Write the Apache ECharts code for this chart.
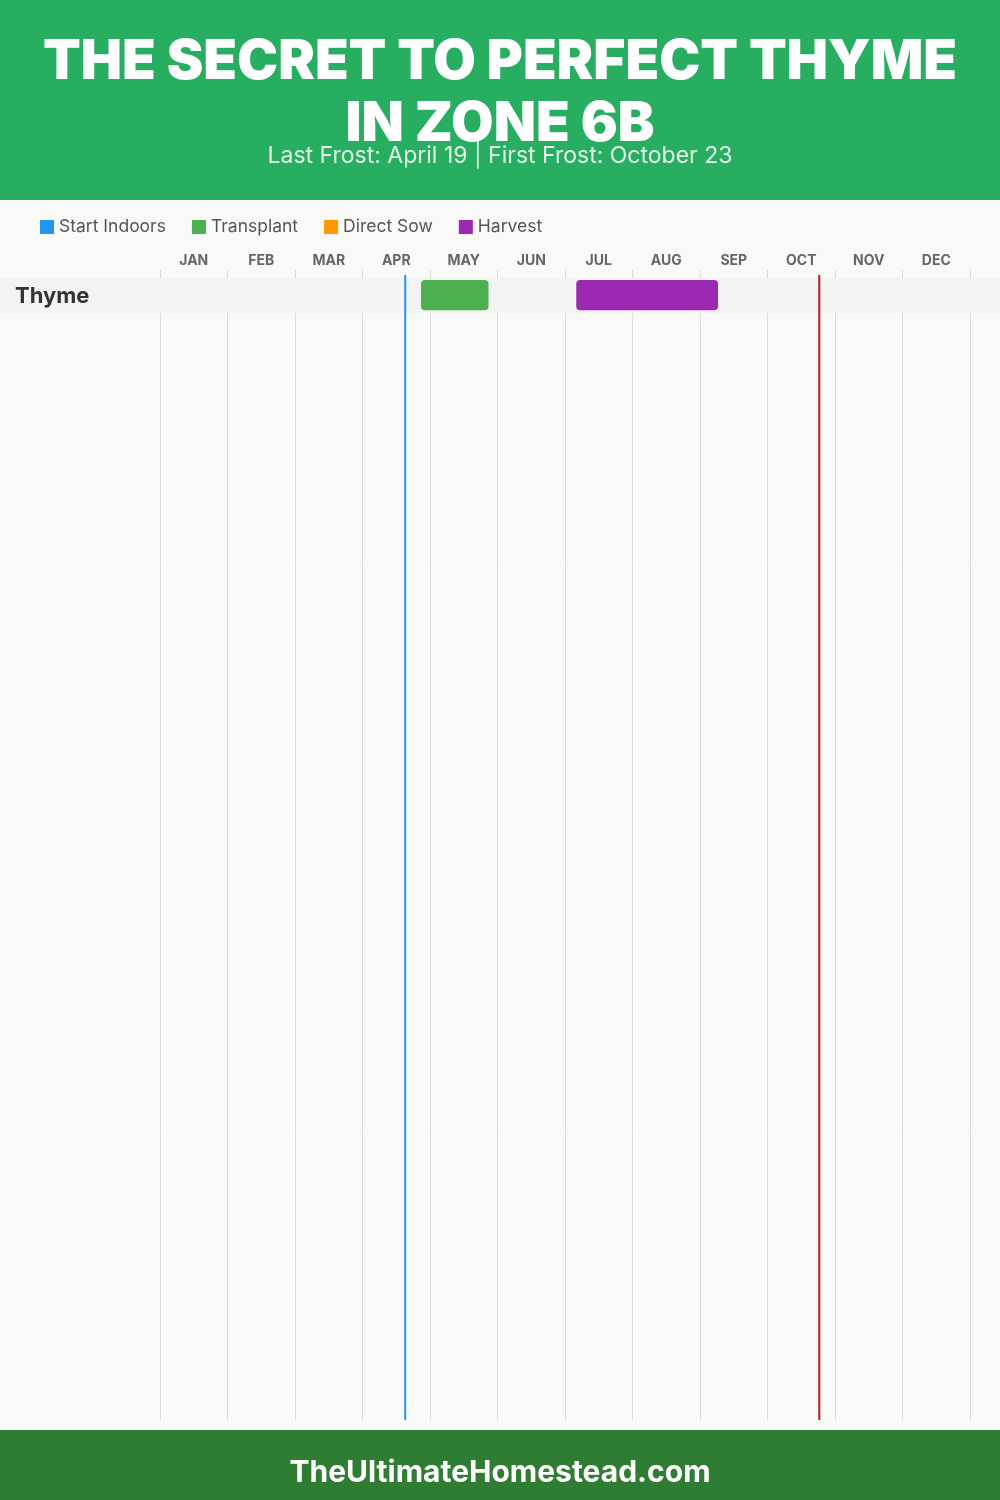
<!DOCTYPE html>
<html>
<head>
<meta charset="utf-8">
<script src="https://cdn.jsdelivr.net/npm/echarts@6/dist/echarts.min.js"></script>
<style>
html,body{margin:0;padding:0;background:#f9f9f8;}
#chart{width:1000px;height:1500px;}
</style>
</head>
<body>
<div id="chart"></div>
<script>
// ---- data ----
const titleText = 'THE SECRET TO PERFECT THYME\nIN ZONE 6B';
const subtitleText = 'Last Frost: April 19 | First Frost: October 23';
const footerText = 'TheUltimateHomestead.com';
const months = ['JAN','FEB','MAR','APR','MAY','JUN','JUL','AUG','SEP','OCT','NOV','DEC'];
const crops = ['Thyme'];
const seriesNames = ['Start Indoors','Transplant','Direct Sow','Harvest'];
const seriesColors = ['#2196f3','#4caf50','#ff9800','#9c27b0'];
// [cropIndex, startMonth, endMonth] in month units (0 = Jan 1, month + day/30)
const startIndoors = [];
const transplant = [[0, 3.867, 4.867]];   // Apr 26 - May 26
const directSow = [];
const harvest = [[0, 6.167, 8.267]];      // Jul 5 - Sep 8
const lastFrost = 3.633;   // April 19
const firstFrost = 9.767;  // October 23

const FONT = 'Inter, "Noto Sans", sans-serif';
const ROW_PX = 35;
const GRID_TOP = 278, GRID_BOTTOM = 80;
const chart = echarts.init(document.getElementById('chart'), null, {renderer:'canvas'});
const gridH = 1500 - GRID_TOP - GRID_BOTTOM;

function barItem(params, api) {
  const row = api.value(0);
  const p0 = api.coord([api.value(1), row + 0.06]);
  const p1 = api.coord([api.value(2), row + 0.92]);
  return {type:'rect', shape:{x:p0[0], y:p0[1], width:p1[0]-p0[0], height:p1[1]-p0[1], r:4},
    style:{fill: api.visual('color')}};
}
const phaseData = [startIndoors, transplant, directSow, harvest];
const phaseSeries = seriesNames.map((n,i)=>({
  name:n, type:'custom', xAxisIndex:1, yAxisIndex:0, z:5,
  itemStyle:{color:seriesColors[i]},
  encode:{x:[1,2], y:0},
  renderItem: barItem,
  data: phaseData[i]
}));

const rowSeries = {
  type:'custom', xAxisIndex:1, yAxisIndex:0, z:3, clip:false, silent:true,
  encode:{x:-1, y:0},
  renderItem(params, api){
    const row = api.value(0);
    const y0 = api.coord([0,row])[1], y1 = api.coord([0,row+1])[1];
    return {type:'group', children:[
      {type:'rect', shape:{x:0, y:y0, width:api.getWidth(), height:y1-y0}, style:{fill:'#f3f3f2'}},
      {type:'text', x:15, y:(y0+y1)/2 + 1, style:{text:crops[row], fill:'#333', font:'bold 22px '+FONT, textVerticalAlign:'middle'}}
    ]};
  },
  data: crops.map((c,i)=>[i])
};

const frostSeries = {
  type:'custom', xAxisIndex:1, yAxisIndex:0, z:6, clip:false, silent:true,
  encode:{x:0},
  renderItem(params, api){
    const x = api.coord([api.value(0), 0])[0];
    const cs = params.coordSys;
    return {type:'line', shape:{x1:x, y1:cs.y-3, x2:x, y2:cs.y+cs.height},
      style:{stroke: params.dataIndex===0 ? '#2196f3' : '#b71c1c', lineWidth:2}};
  },
  data: [[lastFrost],[firstFrost]]
};

chart.setOption({
  backgroundColor:'#f9f9f8',
  animation:false,
  textStyle:{fontFamily:FONT},
  graphic:[
    {type:'rect', shape:{x:0,y:0,width:1000,height:200}, style:{fill:'#27ae60'}, z:-1},
    {type:'rect', shape:{x:0,y:1430,width:1000,height:70}, style:{fill:'#2e7d32'}, z:-1},
    {type:'text', left:'center', top:1458, style:{text:footerText, fill:'#fff', font:'bold 30px '+FONT}}
  ],
  title:[{
    text:titleText, left:'center', top:31, padding:0,
    textStyle:{color:'#fff', fontSize:55, fontWeight:900, lineHeight:62, fontFamily:FONT}
  },{
    text:subtitleText, left:'center', top:144, padding:0,
    textStyle:{color:'#e3f3e8', fontSize:23, fontWeight:'normal', fontFamily:FONT, lineHeight:24}
  }],
  legend:{
    data:seriesNames, left:40, top:218, padding:0, icon:'rect', itemWidth:14, itemHeight:14, itemGap:26,
    textStyle:{fontSize:17.5, color:'#555', fontFamily:FONT}
  },
  grid:{left:160, right:30, top:GRID_TOP, bottom:GRID_BOTTOM},
  xAxis:[
    {type:'category', data:months, position:'top', boundaryGap:true,
      axisLine:{show:false},
      axisTick:{show:true, length:8, interval:0, lineStyle:{color:'#ddd'}},
      axisLabel:{interval:0, margin:10, fontSize:14, fontWeight:'bold', color:'#666', fontFamily:FONT},
      splitLine:{show:true, interval:0, lineStyle:{color:'#dddddd', width:1}}},
    {type:'value', min:0, max:12, show:false}
  ],
  yAxis:[{type:'value', min:0, max:gridH/ROW_PX, inverse:true, show:false}],
  series:[rowSeries, ...phaseSeries, frostSeries]
});
</script>
</body>
</html>
